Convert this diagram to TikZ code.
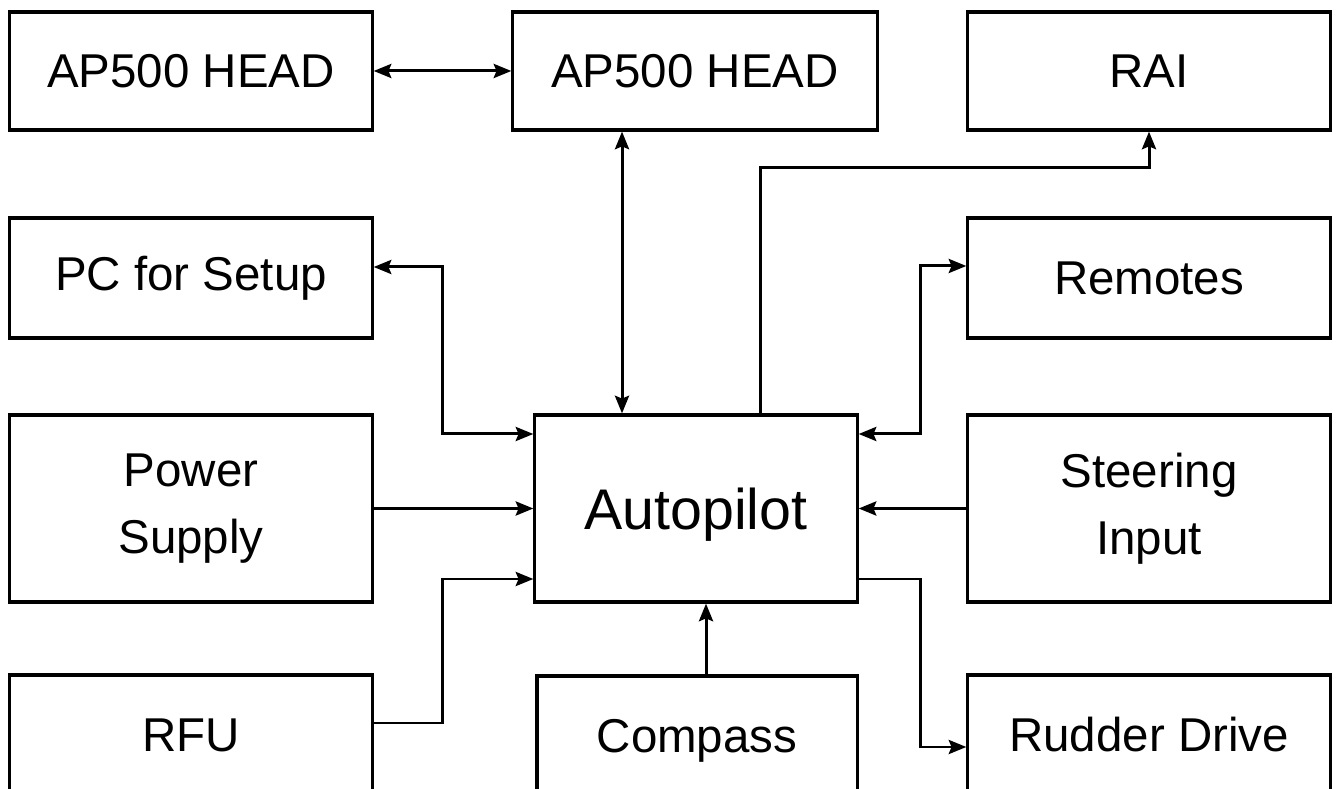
\documentclass[tikz,border=0pt]{standalone}
\usepackage{fontspec}
\setmainfont{Liberation Sans}
\usetikzlibrary{arrows.meta}

\begin{document}
\begin{tikzpicture}[x=0.01cm,y=-0.01cm,
  box/.style={draw,line width=0.9pt,inner sep=0pt,minimum width=3.62cm,align=center,
    font=\fontsize{13.5}{19.2}\selectfont},
  link/.style={line width=0.85pt,arrows={-Stealth[length=5pt,width=4pt,inset=0.8pt]}},
  twoway/.style={link,arrows={Stealth[length=5pt,width=4pt,inset=0.8pt]-Stealth[length=5pt,width=4pt,inset=0.8pt]}}]

\clip (0,0) rectangle (1337,789);

% top row
\node[box,minimum height=1.18cm] (headL) at (191,71) {AP500 HEAD};
\node[box,minimum height=1.18cm,minimum width=3.64cm] (headC) at (695,71) {AP500 HEAD};
\node[box,minimum height=1.18cm] (rai) at (1149,71) {RAI};
% second row
\node[box,minimum height=1.2cm] (pc) at (191,278) {PC for Setup};
\node[box,minimum height=1.2cm] (remotes) at (1149,278) {Remotes};
% middle row
\node[box,minimum height=1.87cm] (power) at (191,508.5) {Power\\Supply};
\node[box,minimum height=1.87cm,minimum width=3.22cm,text depth=0pt,font=\fontsize{16.3}{19}\selectfont] (auto) at (696,508.5) {Autopilot};
\node[box,minimum height=1.87cm] (steer) at (1149,508.5) {Steering\\Input};
% bottom row (cut off)
\node[box,minimum height=1.2cm] (rfu) at (191,735) {RFU};
\node[box,minimum height=1.2cm,minimum width=3.2cm,text depth=0pt] (compass) at (697,736) {Compass};
\node[box,minimum height=1.2cm] (rudder) at (1149,735) {Rudder Drive};

\coordinate (headx) at (622,0);
\coordinate (raibend) at (760,168);
\coordinate (pcbend) at (442,267);
\coordinate (pcdrop) at (442,434);
\coordinate (rfubend) at (442,723);
\coordinate (rfurise) at (442,579);
\coordinate (rembend) at (920,266);
\coordinate (remdrop) at (920,434);
\coordinate (rudbend) at (920,579);
\coordinate (ruddrop) at (920,747);
\coordinate (cmpx) at (706,0);

\draw[twoway] (headL) -- (headC);
\draw[twoway] (headC.south -| headx) -- (auto.north -| headx);
\draw[link] (auto.north -| raibend) -- (raibend) -| (rai.south);
\draw[twoway] (pc.east |- pcbend) -- (pcbend) -- (pcdrop) -- (auto.west |- pcdrop);
\draw[link] (power) -- (auto);
\draw[link] (rfu.east |- rfubend) -- (rfubend) -- (rfurise) -- (auto.west |- rfurise);
\draw[twoway] (auto.east |- remdrop) -- (remdrop) -- (rembend) -- (remotes.west |- rembend);
\draw[link] (steer) -- (auto);
\draw[link] (auto.east |- rudbend) -- (rudbend) -- (ruddrop) -- (rudder.west |- ruddrop);
\draw[link] (compass.north -| cmpx) -- (auto.south -| cmpx);

\end{tikzpicture}
\end{document}
